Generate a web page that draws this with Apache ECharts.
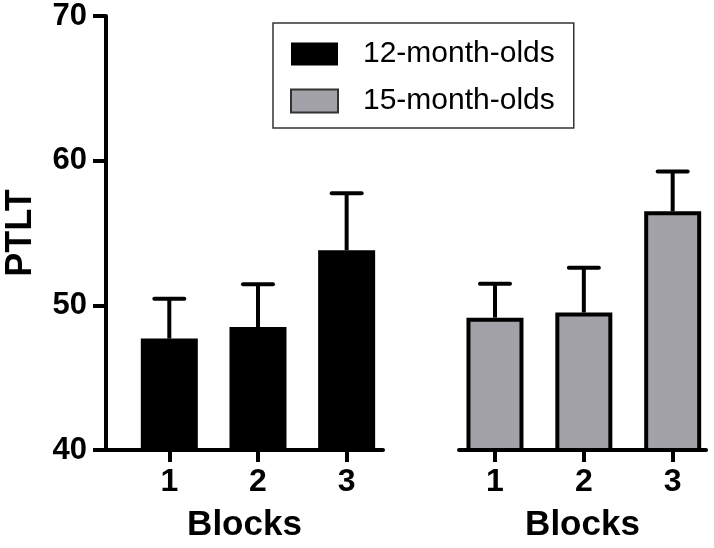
<!DOCTYPE html>
<html>
<head>
<meta charset="utf-8">
<script src="https://cdn.jsdelivr.net/npm/echarts@6/dist/echarts.min.js"></script>
<style>
  html, body { margin: 0; padding: 0; background: #fff; }
  #chart { width: 714px; height: 548px; }
</style>
</head>
<body>
<div id="chart"></div>
<script>
// blocks and values
var blocks = [1, 2, 3];
var groups = ['12-month-olds', '15-month-olds'];
var mean12 = [47.7, 48.5, 53.8];
var sem12 = [2.75, 2.95, 3.95];
var mean15 = [49.15, 49.5, 56.5];
var sem15 = [2.35, 3.1, 2.75];
var yTicks = [40, 50, 60, 70];

var FONT = '"Liberation Sans", Arial, Helvetica, sans-serif';
var GRAY = '#a3a2a8';

var chart = echarts.init(document.getElementById('chart'));

function pairs(means, sems) {
  return blocks.map(function (b, i) { return [b, means[i], sems[i]]; });
}

function errorBar(params, api) {
  var x = api.value(0), m = api.value(1), e = api.value(2);
  var base = api.coord([x, m]);
  var top = api.coord([x, m + e]);
  return {
    type: 'group',
    children: [
      { type: 'line', shape: { x1: base[0], y1: base[1], x2: top[0], y2: top[1] },
        style: { stroke: '#000', lineWidth: 4 } },
      { type: 'line', shape: { x1: top[0] - 15, y1: top[1], x2: top[0] + 15, y2: top[1] },
        style: { stroke: '#000', lineWidth: 4, lineCap: 'round' } }
    ]
  };
}

function xAxisFor(idx, min, max) {
  return {
    type: 'value',
    gridIndex: idx,
    min: min,
    max: max,
    name: 'Blocks',
    nameLocation: 'middle',
    nameGap: 58,
    nameTextStyle: { fontFamily: FONT, fontWeight: 'bold', fontSize: 35, color: '#000' },
    axisLine: { show: true, onZero: false, lineStyle: { color: '#000', width: 4 } },
    axisTick: { show: true, length: 12, customValues: blocks, lineStyle: { color: '#000', width: 4 } },
    axisLabel: { customValues: blocks, margin: 16, fontFamily: FONT, fontWeight: 'bold', fontSize: 32, color: '#000' },
    splitLine: { show: false }
  };
}

var option = {
  animation: false,
  grid: [
    { left: 106, right: 331, top: 16, bottom: 98, outerBoundsMode: 'none' },
    { left: 459, right: 8, top: 16, bottom: 98, outerBoundsMode: 'none' }
  ],
  legend: {
    orient: 'vertical',
    left: 273,
    top: 23,
    padding: [16, 19, 12, 17],
    itemGap: 17,
    itemWidth: 47,
    itemHeight: 23,
    borderColor: '#333',
    borderWidth: 1.5,
    textStyle: { fontFamily: FONT, fontSize: 30, color: '#000', lineHeight: 23, padding: [0, 0, 0, 20] },
    data: [
      { name: groups[0], icon: 'rect', itemStyle: { color: '#000', borderWidth: 0 } },
      { name: groups[1], icon: 'rect', itemStyle: { color: GRAY, borderColor: '#333', borderWidth: 2 } }
    ]
  },
  xAxis: [
    xAxisFor(0, 0.286, 3.41),
    xAxisFor(1, 0.595, 3.375)
  ],
  yAxis: [
    {
      type: 'value',
      gridIndex: 0,
      min: yTicks[0],
      max: yTicks[yTicks.length - 1],
      interval: 10,
      name: 'PTLT',
      nameLocation: 'middle',
      nameRotate: 90,
      nameGap: 67,
      nameTextStyle: { fontFamily: FONT, fontWeight: 'bold', fontSize: 36, color: '#000' },
      axisLine: { show: true, lineStyle: { color: '#000', width: 4 } },
      axisTick: { show: true, length: 13, lineStyle: { color: '#000', width: 4 } },
      axisLabel: { margin: 19, fontFamily: FONT, fontWeight: 'bold', fontSize: 31, color: '#000' },
      splitLine: { show: false }
    },
    {
      type: 'value',
      gridIndex: 1,
      min: yTicks[0],
      max: yTicks[yTicks.length - 1],
      interval: 10,
      show: false
    }
  ],
  series: [
    {
      name: groups[0],
      type: 'bar',
      xAxisIndex: 0,
      yAxisIndex: 0,
      barWidth: 57,
      data: pairs(mean12, sem12),
      encode: { x: 0, y: 1 },
      itemStyle: { color: '#000', borderColor: '#000', borderWidth: 4 }
    },
    {
      name: groups[1],
      type: 'bar',
      xAxisIndex: 1,
      yAxisIndex: 1,
      barWidth: 57,
      data: pairs(mean15, sem15),
      encode: { x: 0, y: 1 },
      itemStyle: { color: GRAY, borderColor: '#000', borderWidth: 4 }
    },
    {
      name: 'err12',
      type: 'custom',
      xAxisIndex: 0,
      yAxisIndex: 0,
      data: pairs(mean12, sem12),
      renderItem: errorBar,
      encode: { x: 0, y: [1, 2] },
      z: 3
    },
    {
      name: 'err15',
      type: 'custom',
      xAxisIndex: 1,
      yAxisIndex: 1,
      data: pairs(mean15, sem15),
      renderItem: errorBar,
      encode: { x: 0, y: [1, 2] },
      z: 3
    }
  ]
};

chart.setOption(option);
</script>
</body>
</html>
